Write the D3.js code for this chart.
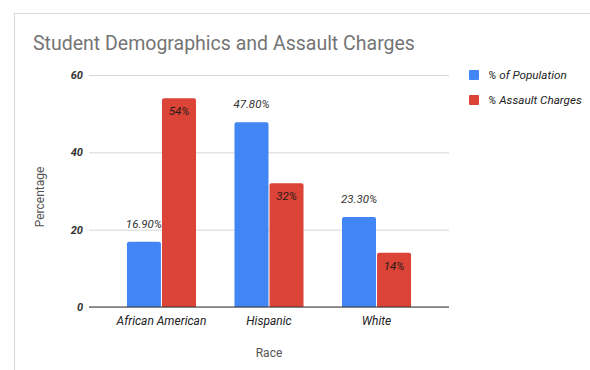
<!DOCTYPE html>
<html lang="en">
  <head>
    <meta charset="UTF-8" />
    <title>Student Demographics and Assault Charges</title>
    <script src="https://d3js.org/d3.v7.min.js"></script>
    <style>
      body {
        margin: 0;
        background: #fff;
        font-family: Roboto, "Noto Sans", Arial, sans-serif;
      }
    </style>
  </head>
  <body>
    <div id="chart"></div>
    <script>
      // data
      const categories = ["African American", "Hispanic", "White"];
      const seriesNames = ["% of Population", "% Assault Charges"];
      const population = [16.9, 47.8, 23.3];
      const assault = [54, 32, 14];
      const populationLabels = ["16.90%", "47.80%", "23.30%"];
      const assaultLabels = ["54%", "32%", "14%"];
      const yTicks = [0, 20, 40, 60];

      const colors = ["#4285f4", "#db4437"];
      const W = 590, H = 370;

      const svg = d3.select("#chart").append("svg")
        .attr("width", W).attr("height", H);

      // card outline
      svg.append("rect")
        .attr("x", 14.5).attr("y", 13.5)
        .attr("width", 700).attr("height", 500)
        .attr("fill", "#fff")
        .attr("stroke", "#d9d9d9");

      svg.append("text")
        .attr("x", 33).attr("y", 50)
        .attr("fill", "#757575")
        .attr("font-size", 19.5)
        .text("Student Demographics and Assault Charges");

      const x = d3.scaleBand()
        .domain(categories)
        .range([89, 449])
        .paddingInner(0.358)
        .paddingOuter(0.353);

      const xSub = d3.scaleBand()
        .domain([0, 1])
        .range([0, x.bandwidth()])
        .paddingInner(0.03);

      const y = d3.scaleLinear().domain([0, 60]).range([307, 75]);

      // gridlines + tick labels
      const yAxis = svg.append("g")
        .attr("transform", "translate(89,0)")
        .call(d3.axisLeft(y).tickValues(yTicks).tickSize(-360).tickPadding(6));
      yAxis.select(".domain").remove();
      yAxis.selectAll("line").attr("stroke", "#d6d6d6");
      yAxis.selectAll("text")
        .attr("font-family", "Roboto, sans-serif")
        .attr("font-size", 11)
        .attr("font-style", "italic")
        .attr("font-weight", "bold")
        .attr("fill", "#333");

      const rows = categories.map((c, i) => ({
        cat: c,
        vals: [population[i], assault[i]],
        labels: [populationLabels[i], assaultLabels[i]]
      }));

      const groups = svg.selectAll(".grp")
        .data(rows).enter().append("g")
        .attr("transform", (d) => `translate(${x(d.cat)},0)`);

      groups.selectAll("path")
        .data((d) => d.vals.map((v, k) => ({ v, k })))
        .enter().append("path")
        .attr("fill", (d) => colors[d.k])
        .attr("d", (d) => {
          const x0 = xSub(d.k), w = xSub.bandwidth();
          const top = y(d.v), bot = y(0), r = 2;
          return `M${x0},${bot}V${top + r}Q${x0},${top} ${x0 + r},${top}` +
            `H${x0 + w - r}Q${x0 + w},${top} ${x0 + w},${top + r}V${bot}Z`;
        });

      // value labels: population above the bar, assault inside the top
      groups.selectAll(".lbl")
        .data((d) => d.vals.map((v, k) => ({ v, k, t: d.labels[k] })))
        .enter().append("text")
        .attr("class", "lbl")
        .attr("x", (d) => xSub(d.k) + xSub.bandwidth() / 2)
        .attr("y", (d) => d.k === 0 ? y(d.v) - 14 : y(d.v) + 17)
        .attr("text-anchor", "middle")
        .attr("font-size", 11.5)
        .attr("font-style", "italic")
        .attr("fill", (d) => d.k === 0 ? "#333" : "#2a1a18")
        .text((d) => d.t);

      // baseline
      svg.append("line")
        .attr("x1", 89).attr("x2", 449)
        .attr("y1", y(0)).attr("y2", y(0))
        .attr("stroke", "#333");

      // category labels
      svg.append("g").selectAll("text")
        .data(categories).enter().append("text")
        .attr("x", (d) => x(d) + x.bandwidth() / 2)
        .attr("y", 325)
        .attr("text-anchor", "middle")
        .attr("font-size", 12)
        .attr("font-style", "italic")
        .attr("fill", "#222")
        .text((d) => d);

      svg.append("text")
        .attr("x", 269).attr("y", 357)
        .attr("text-anchor", "middle")
        .attr("font-size", 12)
        .attr("fill", "#555")
        .text("Race");

      svg.append("text")
        .attr("transform", "translate(44,197) rotate(-90)")
        .attr("text-anchor", "middle")
        .attr("font-size", 12)
        .attr("fill", "#555")
        .text("Percentage");

      // legend
      const leg = svg.append("g").selectAll("g")
        .data(seriesNames).enter().append("g")
        .attr("transform", (d, i) => `translate(469,${70 + i * 25})`);
      leg.append("rect")
        .attr("width", 10).attr("height", 10).attr("rx", 1)
        .attr("fill", (d, i) => colors[i]);
      leg.append("text")
        .attr("x", 19).attr("y", 9)
        .attr("font-size", 11.7)
        .attr("font-style", "italic")
        .attr("fill", "#222")
        .text((d) => d);
    </script>
  </body>
</html>
